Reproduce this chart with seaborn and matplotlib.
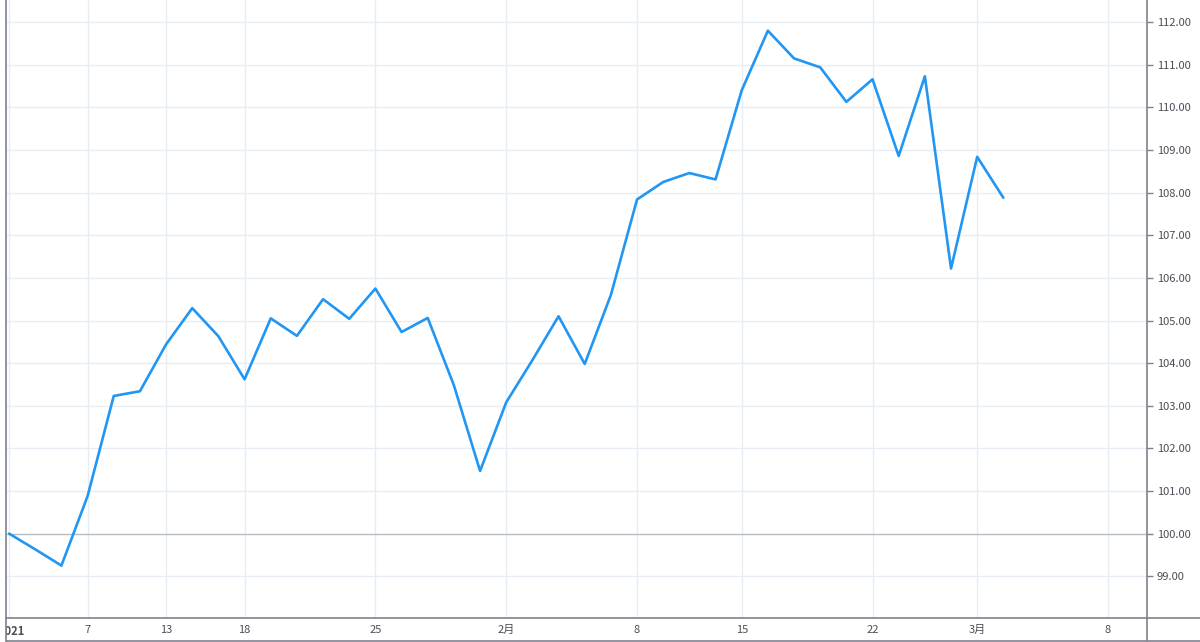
import matplotlib
matplotlib.use('Agg')
import matplotlib.pyplot as plt
from matplotlib.lines import Line2D
from matplotlib.transforms import Bbox, TransformedBbox, ScaledTranslation
import pandas as pd
import seaborn as sns

# trading sessions (Japanese calendar), last four are future dates with no data yet
sessions = ['2021-01-04', '2021-01-05', '2021-01-06', '2021-01-07', '2021-01-08',
            '2021-01-12', '2021-01-13', '2021-01-14', '2021-01-15', '2021-01-18',
            '2021-01-19', '2021-01-20', '2021-01-21', '2021-01-22', '2021-01-25',
            '2021-01-26', '2021-01-27', '2021-01-28', '2021-01-29', '2021-02-01',
            '2021-02-02', '2021-02-03', '2021-02-04', '2021-02-05', '2021-02-08',
            '2021-02-09', '2021-02-10', '2021-02-12', '2021-02-15', '2021-02-16',
            '2021-02-17', '2021-02-18', '2021-02-19', '2021-02-22', '2021-02-24',
            '2021-02-25', '2021-02-26', '2021-03-01', '2021-03-02', '2021-03-03',
            '2021-03-04', '2021-03-05', '2021-03-08']

values = [100.00, 99.63, 99.25, 100.88, 103.23, 103.34, 104.44, 105.29, 104.63, 103.62,
          105.05, 104.64, 105.50, 105.04, 105.75, 104.73, 105.06, 103.48, 101.47, 103.08,
          104.07, 105.10, 103.98, 105.60, 107.84, 108.25, 108.46, 108.31, 110.40, 111.80,
          111.15, 110.94, 110.13, 110.66, 108.86, 110.73, 106.22, 108.84, 107.88]

tick_dates = ['2021-01-04', '2021-01-07', '2021-01-13', '2021-01-18', '2021-01-25',
              '2021-02-01', '2021-02-08', '2021-02-15', '2021-02-22', '2021-03-01',
              '2021-03-08']
tick_labels = ['2021', '7', '13', '18', '25', '2月', '8', '15', '22', '3月', '8']

y_ticks = list(range(99, 113))

df = pd.DataFrame({'idx': range(len(values)), 'value': values})

sns.set_style('white')
plt.rcParams['font.family'] = ['Noto Sans CJK JP', 'DejaVu Sans']

W, H = 1200, 642
fig = plt.figure(figsize=(W / 100, H / 100), dpi=100)
ax = fig.add_axes([7 / W, (H - 618) / H, (1147 - 7) / W, 618 / H])

grid_c = '#e6edf5'
border_c = '#7f828c'
text_c = '#4a4d57'

tick_pos = [sessions.index(d) for d in tick_dates]
for p in tick_pos:
    ax.axvline(p, color=grid_c, lw=1, zorder=0)
for y in y_ticks:
    if y != 100:
        ax.axhline(y, color=grid_c, lw=1, zorder=0)
ax.axhline(100, color='#b8bbc3', lw=1, zorder=1)

sns.lineplot(data=df, x='idx', y='value', color='#2196f3', linewidth=1.9, ax=ax, zorder=3)

ax.set_xlim(-0.08, 43.49)
ax.set_ylim(98.02, 112.52)
ax.set_xlabel('')
ax.set_ylabel('')

ax.set_xticks(tick_pos)
ax.set_xticklabels(tick_labels)
ax.set_yticks(y_ticks)
ax.set_yticklabels([f'{v:.2f}' for v in y_ticks])
ax.yaxis.tick_right()
ax.tick_params(axis='x', direction='out', length=3, width=1, color=border_c,
               labelsize=8, labelcolor=text_c, pad=2)
ax.tick_params(axis='y', direction='out', length=4, width=1, color=border_c,
               labelsize=8, labelcolor=text_c, pad=3)
for s in ax.spines.values():
    s.set_visible(False)

# year label is cut by the pane's left border, as in the original
clip = TransformedBbox(Bbox([[6 / W, 0], [1, 1]]), fig.transFigure)
first = ax.get_xticklabels()[0]
first.set_fontweight('bold')
first.set_transform(first.get_transform() + ScaledTranslation(3 / 100, 0, fig.dpi_scale_trans))
first.set_clip_box(clip)
first.set_clip_on(True)


def px_line(xs, ys):
    fig.add_artist(Line2D([x / W for x in xs], [1 - y / H for y in ys],
                          transform=fig.transFigure, color=border_c, lw=1.2))


px_line([6, 6], [0, 641])
px_line([1147, 1147], [0, 641])
px_line([6, 1200], [618, 618])
px_line([6, 1200], [641, 641])

plt.savefig('out.png', dpi=100)
